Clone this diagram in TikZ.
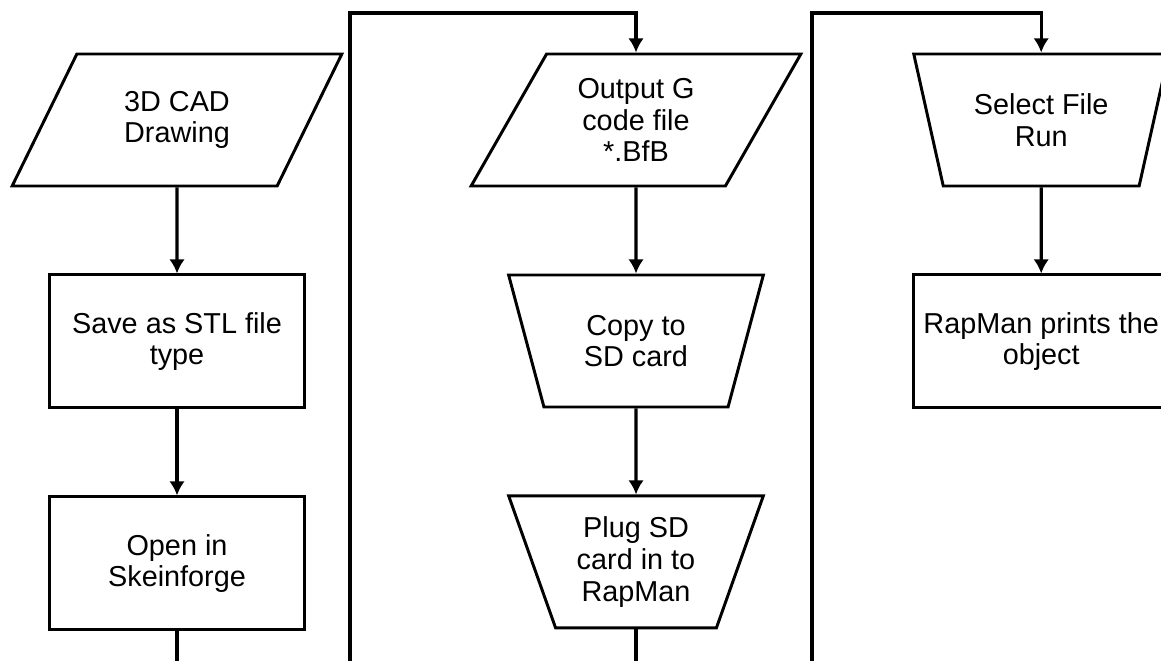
\documentclass[tikz,border=0pt]{standalone}
\usepackage{fontspec}
\setmainfont{Liberation Sans}
\usetikzlibrary{shapes.geometric,positioning,arrows.meta}

\tikzset{
  box/.style={draw, line width=2.1pt, fill=white, align=center, inner sep=0pt,
    minimum width=6.375cm, minimum height=3.325cm},
  iobox/.style={draw, line width=2.1pt, fill=white, align=center, inner sep=0pt,
    trapezium, trapezium left angle=59.4, trapezium right angle=120.6,
    trapezium stretches=true, minimum width=8.25cm, minimum height=3.3cm},
  manualbox/.style={draw, line width=2.1pt, fill=white, align=center, inner sep=0pt,
    trapezium, trapezium left angle=111, trapezium right angle=111,
    trapezium stretches=true, minimum width=6.375cm, minimum height=3.3cm},
  flow/.style={line width=2.2pt, -{Latex[length=10pt,width=11pt]}},
}

\begin{document}
\begin{tikzpicture}[node distance=2.15cm, font=\fontsize{20.5}{22.5}\selectfont]
        \useasboundingbox (0,0) rectangle (29.025,16.5);
        \clip (0,0) rectangle (29.025,16.5);

        % First column.
        \node[iobox] (cad) at (4.425,13.5) {3D CAD\\Drawing};
        \node[box, below=of cad] (stl) {Save as STL file\\type};
        \node[box, below=of stl] (skein) {Open in\\Skeinforge};
        \draw[flow] (cad) -- (stl);
        \draw[flow] (stl) -- (skein);

        % Second column.
        \node[iobox] (gcode) at (15.9,13.5) {Output G\\code file\\*.BfB};
        \node[manualbox, below=of gcode] (copy) {Copy to\\SD card};
        \node[manualbox, below=of copy] (plug) {Plug SD\\card in to\\RapMan};
        \draw[flow] (gcode) -- (copy);
        \draw[flow] (copy) -- (plug);

        % Third column.
        \node[manualbox] (select) at (26.03,13.5) {Select File\\Run};
        \node[box, below=of select] (print) {RapMan prints the\\object};
        \draw[flow] (select) -- (print);

        % Links between the columns.
        \coordinate (lowA) at (8.75,-1.0);
        \coordinate (topA) at (8.75,16.175);
        \draw[flow] (skein.south) |- (lowA) -- (topA) -| (gcode.north);
        \coordinate (lowB) at (20.3,-1.0);
        \coordinate (topB) at (20.3,16.175);
        \draw[flow] (plug.south) |- (lowB) -- (topB) -| (select.north);
      \end{tikzpicture}
\end{document}
